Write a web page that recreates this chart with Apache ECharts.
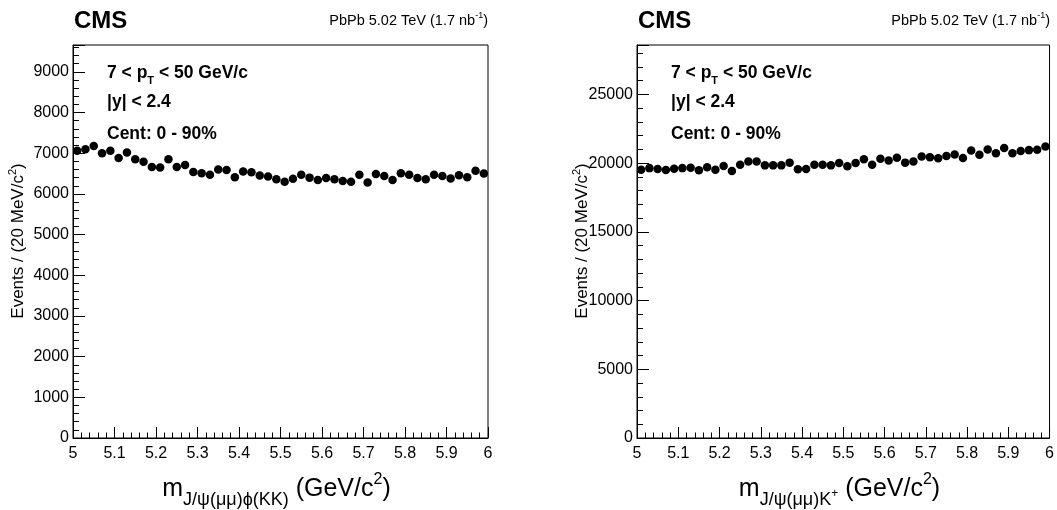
<!DOCTYPE html>
<html>
<head>
<meta charset="utf-8">
<script src="https://cdn.jsdelivr.net/npm/echarts@6/dist/echarts.min.js"></script>
<style>
  html, body { margin: 0; padding: 0; background: #fff; }
  #chart { width: 1057px; height: 510px; }
</style>
</head>
<body>
<div id="chart"></div>
<script>
// Invariant-mass bin centres (20 MeV bins between 5 and 6 GeV/c^2)
const massCenters = [
  5.01, 5.03, 5.05, 5.07, 5.09, 5.11, 5.13, 5.15, 5.17, 5.19,
  5.21, 5.23, 5.25, 5.27, 5.29, 5.31, 5.33, 5.35, 5.37, 5.39,
  5.41, 5.43, 5.45, 5.47, 5.49, 5.51, 5.53, 5.55, 5.57, 5.59,
  5.61, 5.63, 5.65, 5.67, 5.69, 5.71, 5.73, 5.75, 5.77, 5.79,
  5.81, 5.83, 5.85, 5.87, 5.89, 5.91, 5.93, 5.95, 5.97, 5.99
];

// Events per bin, J/psi(mumu) phi(KK) candidates
const bsPhiCounts = [
  7060, 7100, 7180, 7000, 7060, 6880, 7020, 6850, 6790, 6660,
  6650, 6850, 6660, 6710, 6540, 6510, 6470, 6600, 6590, 6410,
  6550, 6530, 6450, 6430, 6360, 6300, 6370, 6470, 6400, 6340,
  6390, 6360, 6320, 6300, 6470, 6280, 6490, 6440, 6340, 6510,
  6470, 6390, 6360, 6470, 6440, 6380, 6460, 6410, 6570, 6500
];

// Events per bin, J/psi(mumu) K+ candidates
const buKCounts = [
  19530, 19640, 19570, 19500, 19600, 19640, 19670, 19480, 19700, 19530,
  19790, 19430, 19890, 20130, 20130, 19840, 19840, 19840, 20040, 19550,
  19570, 19890, 19890, 19840, 20010, 19770, 20010, 20280, 19890, 20330,
  20200, 20400, 20040, 20130, 20490, 20440, 20350, 20520, 20640, 20370,
  20930, 20620, 21000, 20730, 21100, 20730, 20880, 20950, 20980, 21220
];

// Axis ranges and tick spacing for the two panels
const massRange = [5, 6];
const panelYMax = [9660, 28600];
const panelYMajor = [1000, 5000];
const panelYMinor = [200, 1000];

const FONT = "'Liberation Sans', Arial, Helvetica, sans-serif";
const BLACK = '#000';

const grids = [
  { left: 73, top: 45, width: 415, height: 393 },
  { left: 637, top: 45, width: 413, height: 393 }
];

const chart = echarts.init(document.getElementById('chart'), null, { renderer: 'canvas' });

const xAxes = grids.map((g, i) => ({
  type: 'value',
  gridIndex: i,
  min: massRange[0],
  max: massRange[1],
  interval: 0.1,
  axisLine: { show: true, lineStyle: { color: BLACK, width: 1 } },
  axisTick: { show: true, inside: true, length: 11, lineStyle: { color: BLACK } },
  minorTick: { show: true, splitNumber: 5, length: 5.5, lineStyle: { color: BLACK } },
  splitLine: { show: false },
  minorSplitLine: { show: false },
  axisLabel: {
    fontFamily: FONT, fontSize: 16, color: BLACK, margin: 8,
    formatter: v => String(+(+v).toFixed(2))
  }
}));

const yAxes = [];
grids.forEach((g, i) => {
  // labelled major ticks
  yAxes.push({
    type: 'value',
    gridIndex: i,
    position: 'left',
    min: 0,
    max: panelYMax[i],
    interval: panelYMajor[i],
    axisLine: { show: true, lineStyle: { color: BLACK, width: 1 } },
    axisTick: { show: true, inside: true, length: 12, lineStyle: { color: BLACK } },
    splitLine: { show: false },
    axisLabel: {
      fontFamily: FONT, fontSize: 16, color: BLACK, margin: 4,
      formatter: v => (v % panelYMajor[i] === 0 ? String(v) : '')
    }
  });
  // short minor ticks
  yAxes.push({
    type: 'value',
    gridIndex: i,
    position: 'left',
    min: 0,
    max: panelYMax[i],
    interval: panelYMinor[i],
    axisLine: { show: false },
    axisTick: { show: true, inside: true, length: 6, lineStyle: { color: BLACK } },
    splitLine: { show: false },
    axisLabel: { show: false }
  });
});

const counts = [bsPhiCounts, buKCounts];
const series = counts.map((arr, i) => ({
  type: 'scatter',
  xAxisIndex: i,
  yAxisIndex: i * 2,
  data: massCenters.map((m, k) => [m, arr[k]]),
  symbol: 'circle',
  symbolSize: 8.5,
  itemStyle: { color: BLACK, opacity: 1 },
  silent: true
}));

// Text styles for sub/superscripted titles
const titleRich = {
  m: { fontFamily: FONT, fontSize: 25, lineHeight: 40, verticalAlign: 'middle', fill: BLACK },
  s: { fontFamily: FONT, fontSize: 18, lineHeight: 18, verticalAlign: 'bottom', fill: BLACK },
  ss: { fontFamily: FONT, fontSize: 12, lineHeight: 12, verticalAlign: 'bottom', padding: [0, 0, 9, 0], fill: BLACK },
  p: { fontFamily: FONT, fontSize: 16, lineHeight: 16, verticalAlign: 'top', padding: [3, 0, 0, 0], fill: BLACK }
};
const yTitleRich = {
  t: { fontFamily: FONT, fontSize: 17, lineHeight: 22, verticalAlign: 'middle', fill: BLACK },
  p: { fontFamily: FONT, fontSize: 11, lineHeight: 11, verticalAlign: 'top', fill: BLACK }
};
const boldRich = {
  b: { fontFamily: FONT, fontSize: 17.5, fontWeight: 'bold', lineHeight: 26, verticalAlign: 'middle', fill: BLACK },
  bs: { fontFamily: FONT, fontSize: 11, fontWeight: 'bold', lineHeight: 11, verticalAlign: 'bottom', fill: BLACK }
};
const lumiRich = {
  t: { fontFamily: FONT, fontSize: 14.5, lineHeight: 20, verticalAlign: 'middle', fill: BLACK },
  p: { fontFamily: FONT, fontSize: 9, lineHeight: 9, verticalAlign: 'top', fill: BLACK }
};

const xTitles = [
  '{m|m}{s|J/ψ(μμ)ϕ(KK)}{m| (GeV/c}{p|2}{m|)}',
  '{m|m}{s|J/ψ(μμ)K}{ss|+}{m| (GeV/c}{p|2}{m|)}'
];
const yTitle = '{t|Events / (20 MeV/c}{p|2}{t|)}';
const lumiText = '{t|PbPb 5.02 TeV (1.7 nb}{p|-1}{t|)}';
const selectionLines = [
  '{b|7 < p}{bs|T}{b| < 50 GeV/c}',
  '{b||y| < 2.4}',
  '{b|Cent: 0 - 90%}'
];
const selectionY = [73, 102, 134];

const graphics = [];
grids.forEach((g, i) => {
  const right = g.left + g.width;
  const cx = g.left + g.width / 2;
  graphics.push({
    type: 'text', x: g.left + 1, y: 21,
    style: { text: 'CMS', font: 'bold 24px ' + FONT, fill: BLACK, textAlign: 'left', textVerticalAlign: 'middle' }
  });
  graphics.push({
    type: 'text', x: right, y: 21,
    style: { text: lumiText, rich: lumiRich, textAlign: 'right', textVerticalAlign: 'middle' }
  });
  selectionLines.forEach((t, k) => {
    graphics.push({
      type: 'text', x: g.left + 34, y: selectionY[k],
      style: { text: t, rich: boldRich, textAlign: 'left', textVerticalAlign: 'middle' }
    });
  });
  graphics.push({
    type: 'text', x: cx - 4, y: 489,
    style: { text: xTitles[i], rich: titleRich, textAlign: 'center', textVerticalAlign: 'middle' }
  });
  graphics.push({
    type: 'text', x: g.left - 55, y: 241, rotation: Math.PI / 2,
    style: { text: yTitle, rich: yTitleRich, textAlign: 'center', textVerticalAlign: 'middle' }
  });
});

chart.setOption({
  animation: false,
  backgroundColor: '#fff',
  textStyle: { fontFamily: FONT },
  grid: grids.map(g => Object.assign({ show: true, borderColor: BLACK, borderWidth: 1, backgroundColor: 'transparent' }, g)),
  xAxis: xAxes,
  yAxis: yAxes,
  series: series,
  graphic: graphics
});
</script>
</body>
</html>
